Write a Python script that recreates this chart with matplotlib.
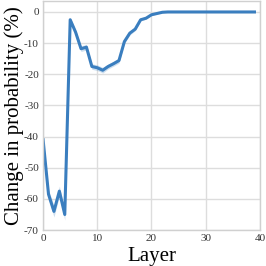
import numpy as np
import matplotlib
matplotlib.use("Agg")
import matplotlib.pyplot as plt

# Change in probability per layer
layers = list(range(40))
change = [-41, -58.5, -64, -57.5, -65, -2.5, -6.5, -11.8, -11.3, -17.5,
          -17.9, -18.7, -17.5, -16.6, -15.6, -9.5, -6.8, -5.5, -2.5, -2.0,
          -0.9, -0.5, -0.1, 0, 0, 0, 0, 0, 0, 0,
          0, 0, 0, 0, 0, 0, 0, 0, 0, 0]
# half width of the shaded band
spread = [1.2, 1.5, 1.8, 1.6, 1.8, 0.8, 0.8, 0.9, 0.9, 0.9,
          0.9, 0.9, 0.8, 0.8, 0.8, 0.6, 0.6, 0.5, 0.4, 0.3,
          0.2, 0.2, 0.1, 0, 0, 0, 0, 0, 0, 0,
          0, 0, 0, 0, 0, 0, 0, 0, 0, 0]

plt.rcParams['font.family'] = ['Liberation Serif', 'DejaVu Serif']
plt.rcParams['axes.unicode_minus'] = False

fig = plt.figure(figsize=(2.66, 2.66), dpi=100)
ax = fig.add_axes([0.162, 0.135, 0.815, 0.861])

x = np.array(layers)
y = np.array(change)
s = np.array(spread)
color = '#3a7ebf'
ax.fill_between(x, y - s, y + s, color=color, alpha=0.25, linewidth=0)
ax.plot(x, y, color=color, linewidth=2.2)

ax.set_xlim(0, 40)
ax.set_ylim(-70, 3.5)
ax.set_xticks([0, 10, 20, 30, 40])
ax.set_yticks([0, -10, -20, -30, -40, -50, -60, -70])

ax.grid(True, color='#dddddd', linewidth=1)
ax.set_axisbelow(True)
for sp in ax.spines.values():
    sp.set_color('#d0d0d0')
    sp.set_linewidth(1)
ax.tick_params(length=0, labelsize=8, colors='#333333', pad=3)

ax.set_xlabel("Layer", fontsize=15, labelpad=3)
ax.set_ylabel("Change in probability (%)", fontsize=15, labelpad=0)

fig.savefig("out.png", dpi=100)
